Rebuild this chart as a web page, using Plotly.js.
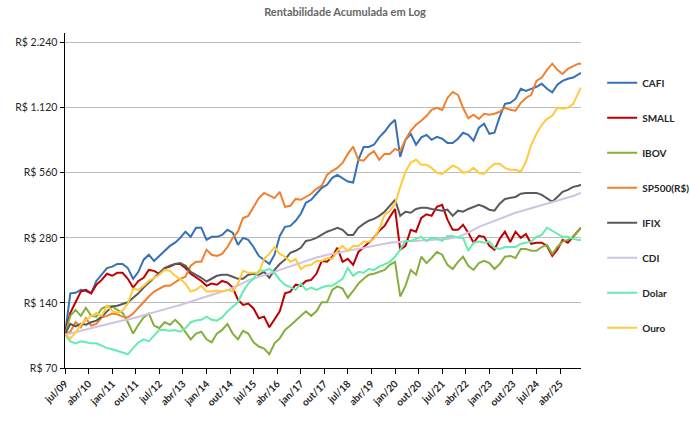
<!DOCTYPE html>
<html><head><meta charset="utf-8">
<script src="https://cdn.plot.ly/plotly-3.0.1.min.js"></script>
<style>html,body{margin:0;padding:0;background:#fff}</style>
</head><body><div id="chart" style="width:690px;height:435px"></div>
<script>
// Month offsets from jul/2009 (bi-monthly readings, last point dec/2025)
const monthOffsets = [];
for (let m = 0; m <= 196; m += 2) monthOffsets.push(m);
monthOffsets.push(197);
const dates = monthOffsets.map(m => {
  const y = 2009 + Math.floor((6 + m) / 12);
  const mo = ((6 + m) % 12) + 1;
  return y + '-' + String(mo).padStart(2, '0') + '-01';
});

const seriesNames = ['CAFI','SMALL','IBOV','SP500(R$)','IFIX','CDI','Dolar','Ouro'];

const cafi = [100,155,156,161,159,155,177,189,203,206,212,212,203,181,195,222,234,219,231,244,257,266,280,299,283,
312,312,274,283,283,289,305,296,260,280,274,254,231,222,212,234,286,315,318,336,362,407,420,448,477,
493,531,548,531,510,505,643,738,738,755,817,867,934,985,664,796,848,755,817,839,796,822,805,770,770,
805,858,839,788,905,944,848,858,1016,1167,1180,1230,1370,1340,1370,1400,1445,1370,1320,1430,1490,1525,1545,1590,1625];

const small = [102,126,141,158,161,155,170,179,191,187,193,193,181,165,177,183,199,197,191,203,206,212,212,203,191,
183,177,168,172,170,177,174,165,145,137,139,132,119,121,108,117,128,155,158,170,168,177,179,191,219,
217,229,252,217,224,210,241,254,266,280,302,318,350,381,247,257,305,299,346,360,354,390,398,340,305,
305,322,296,266,286,283,257,247,277,299,268,299,280,292,263,266,266,257,231,247,274,266,283,302,312];

const ibov = [100,122,130,122,133,122,121,132,135,135,130,126,114,101,111,120,125,110,107,114,111,117,111,103,95,
101,103,95,92,101,105,112,101,95,104,101,92,88,86,81,91,96,105,110,116,122,128,122,128,141,
141,161,167,163,148,159,172,181,189,191,195,199,210,217,150,168,199,189,229,214,226,241,234,210,201,
217,229,208,199,214,219,214,201,212,229,231,226,249,249,244,244,254,260,236,254,269,274,283,302,312];

const sp500 = [100,103,114,108,119,110,112,120,122,125,124,121,120,125,133,142,150,158,163,168,168,174,181,185,208,
217,217,247,234,231,236,254,280,299,346,354,390,428,452,438,428,457,390,394,424,420,433,448,472,488,
548,572,590,622,685,740,643,637,678,705,643,685,685,723,705,796,876,934,975,1028,1095,1120,1095,1243,1325,
1285,1120,1000,1039,995,1050,1039,1050,1073,1120,1095,1085,1180,1243,1285,1490,1545,1677,1790,1677,1605,1697,1750,1790,1790];

const ifix = [100,112,109,112,111,114,116,121,128,135,136,139,141,148,155,165,174,183,193,203,208,212,214,208,195,
189,183,176,181,187,189,189,185,181,181,189,191,189,195,183,199,212,222,239,244,252,271,274,280,289,
299,305,312,305,289,289,312,325,336,343,354,370,394,420,354,370,366,381,386,386,381,378,374,378,354,
374,370,381,390,398,390,378,374,403,424,428,433,448,452,452,452,443,428,411,433,457,467,482,488,493];

const cdi = [100,101,102.5,104,105.5,107,108.5,110,112,113,114.5,116,117,119,121,123,124.5,126.5,128.5,131,133,135,137,139.5,142,
145,147,150,152,155,158,160,164,167.5,173,178,181,185,188,191,195,199,203,206,210,215,220,223,227,230,
234,236,239,241,244,247,249,252,254,257,260,263,266,267,269,270,271,271,273,274,274,276,277,277,280,
283,289,296,305,315,322,329,336,343,350,358,366,372,378,384,390,396,403,409,415,424,431,437,448,452];

const dolar = [100,93,91,93,92,91,91,88.5,86.5,85.5,84,82,81,86.5,92,95,93,99,105,105,104,105,103,107,114,
116,117,121,117,116,120,128,135,141,158,172,181,197,197,201,193,179,170,166,161,172,161,165,161,165,
168,168,174,181,203,187,195,193,201,199,206,212,217,229,247,271,271,277,283,271,280,277,271,286,286,
280,280,244,266,269,266,269,252,249,254,254,254,263,266,269,283,289,312,302,292,283,283,277,274,274];

const ouro = [100,96,102,111,117,121,126,122,136,129,126,129,139,163,161,168,177,183,189,199,197,187,181,172,158,
161,168,158,158,160,158,161,158,172,197,193,193,193,224,236,254,236,229,217,224,201,208,210,219,219,
226,224,244,257,244,257,257,269,269,277,308,358,374,403,482,566,625,643,610,610,590,560,554,578,604,
590,560,566,590,560,554,590,616,616,590,578,578,566,630,755,848,934,995,1028,1120,1107,1120,1167,1320,1390];

const seriesValues = [cafi, small, ibov, sp500, ifix, cdi, dolar, ouro];
const seriesColors = ['#3670B5','#C00000','#86AE3C','#F0802E','#595959','#CFC3E3','#66EBB0','#FFCB3D'];

const yTickVals = [70,140,280,560,1120,2240];
const yTickText = ['R$ 70','R$ 140','R$ 280','R$ 560','R$ 1.120','R$ 2.240'];
const xTickVals = ['2009-07-01','2010-04-01','2011-01-01','2011-10-01','2012-07-01','2013-04-01','2014-01-01','2014-10-01',
  '2015-07-01','2016-04-01','2017-01-01','2017-10-01','2018-07-01','2019-04-01','2020-01-01','2020-10-01',
  '2021-07-01','2022-04-01','2023-01-01','2023-10-01','2024-07-01','2025-04-01'];
const xTickText = ['jul/09','abr/10','jan/11','out/11','jul/12','abr/13','jan/14','out/14','jul/15','abr/16','jan/17',
  'out/17','jul/18','abr/19','jan/20','out/20','jul/21','abr/22','jan/23','out/23','jul/24','abr/25'];

const traces = seriesNames.map((n, i) => ({
  type: 'scatter', mode: 'lines', name: n, legendgroup: n,
  x: dates, y: seriesValues[i],
  line: {color: seriesColors[i], width: 2}
}));

const FONT = 'Lato, "Open Sans", sans-serif';
const layout = {
  width: 690, height: 435,
  margin: {l: 65, r: 109, t: 33, b: 67, autoexpand: false},
  paper_bgcolor: '#fff', plot_bgcolor: '#fff',
  font: {family: FONT, color: '#404040'},
  title: {text: '<b>Rentabilidade Acumulada em Log</b>', x: 0.5, xref: 'container', xanchor: 'center',
          y: 1 - 12/435, yref: 'container', yanchor: 'middle',
          font: {family: FONT, size: 11, color: '#666666'}},
  xaxis: {type: 'date', range: ['2009-07-01', '2025-12-01'],
          tickvals: xTickVals, ticktext: xTickText, tickangle: -45,
          tickfont: {family: FONT, size: 10, color: '#262626', weight: 'bold'},
          showgrid: false, zeroline: false, showline: true, linecolor: '#000', linewidth: 1,
          ticks: 'outside', ticklen: 5, tickcolor: '#000'},
  yaxis: {type: 'log', range: [Math.log10(70), 3.395],
          tickvals: yTickVals, ticktext: yTickText,
          tickfont: {family: FONT, size: 10.5, color: '#262626'},
          showgrid: true, gridcolor: '#BDBDBD', gridwidth: 1, zeroline: false,
          showline: true, linecolor: '#000', linewidth: 1.5,
          ticks: 'outside', ticklen: 4, tickcolor: '#000'},
  showlegend: true,
  legend: {x: 1.041, xanchor: 'left', y: 0.895, yanchor: 'top', orientation: 'v',
           tracegroupgap: 16, font: {family: FONT, size: 10, color: '#262626', weight: 'bold'},
           bgcolor: 'rgba(0,0,0,0)'}
};

Plotly.newPlot('chart', traces, layout, {displayModeBar: false, staticPlot: true});
</script></body></html>
